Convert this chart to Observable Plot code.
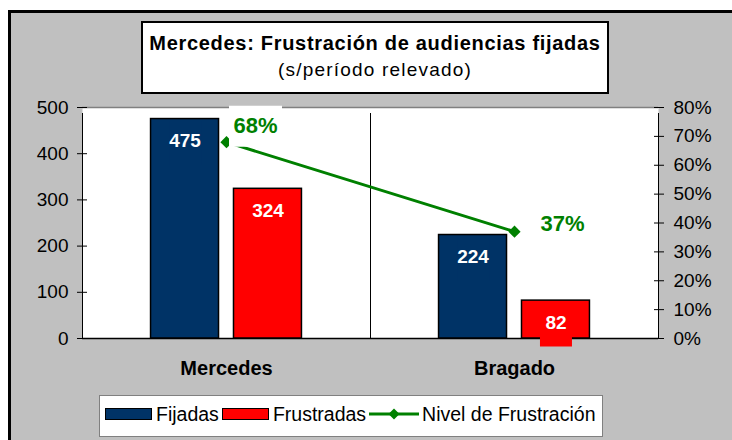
<!DOCTYPE html>
<html>
<head>
<meta charset="utf-8">
<script src="https://cdn.jsdelivr.net/npm/d3@7"></script>
<script src="https://cdn.jsdelivr.net/npm/@observablehq/plot@0.6"></script>
<style>
  html, body { margin: 0; padding: 0; background: #fff; overflow: hidden; width: 732px; height: 440px; }
  body { font-family: "Liberation Sans", Arial, sans-serif; }
  #frame { position: absolute; left: 8px; top: 10px; width: 740px; height: 450px; border: 3px solid #000; background: #c0c0c0; }
  #chart { position: absolute; left: 0; top: 0; }
  #title { position: absolute; left: 130px; top: 8px; width: 468px; height: 73px; box-sizing: border-box;
           border: 2px solid #000; background: #fff; text-align: center; color: #000; }
  #title .t1 { font-weight: bold; font-size: 20px; letter-spacing: 0.7px; margin-top: 9px; line-height: 23px; }
  #title .t2 { font-size: 19px; letter-spacing: 1.2px; margin-top: 4px; line-height: 22px; }
  #legend { position: absolute; left: 88px; top: 382px; width: 504px; height: 42px; box-sizing: border-box;
            border: 1.5px solid #808080; background: #fff; display: flex; align-items: center;
            padding: 0 0 4px 5px; font-size: 19.5px; color: #000; }
  #legend .sw { display: inline-block; width: 45px; height: 10px; border: 1.5px solid #000; margin-right: 4px; }
  #legend .lab { margin-right: 3px; }
  #legend svg { margin-right: 3px; }
</style>
</head>
<body>
<div id="frame">
  <div id="chart"></div>
  <div id="title"><div class="t1">Mercedes: Frustración de audiencias fijadas</div><div class="t2">(s/período relevado)</div></div>
  <div id="legend"></div>
</div>
<script>
// ---- data ----
const categories = ["Mercedes", "Bragado"];
const seriesNames = ["Fijadas", "Frustradas", "Nivel de Frustración"];
const fijadas = [475, 224];
const frustradas = [324, 82];
const nivel = [0.68, 0.37];
const leftTicks = [0, 100, 200, 300, 400, 500];
const rightTicks = [0, 0.1, 0.2, 0.3, 0.4, 0.5, 0.6, 0.7, 0.8];
const colors = { "Fijadas": "#003366", "Frustradas": "#ff0000", "Nivel de Frustración": "#008000" };

// ---- layout ----
const W = 711, H = 370, mL = 71, mR = 64, mT = 94, mB = 45;
const yMax = leftTicks[leftTicks.length - 1];
const rMax = rightTicks[rightTicks.length - 1];
const k = yMax / rMax;
const bw = (W - mL - mR) / categories.length;
const barW = bw * 0.236, gap = bw * 0.052;
const outer = (bw - 2 * barW - gap) / 2;

const rows = categories.flatMap((c, i) => [
  { category: c, series: "Fijadas", value: fijadas[i] },
  { category: c, series: "Frustradas", value: frustradas[i] }
]);
const lineRows = categories.map((c, i) => ({ category: c, pct: nivel[i] }));

const boxSymbol = (w, h) => ({ draw(ctx) { ctx.rect(-w / 2, -h / 2, w, h); } });

const barMarks = ["Fijadas", "Frustradas"].flatMap((s, j) => {
  const data = rows.filter(d => d.series === s);
  const insetLeft = outer + j * (barW + gap);
  const insetRight = bw - insetLeft - barW;
  const dx = insetLeft + barW / 2 - bw / 2;
  return [
    Plot.barY(data, { x: "category", y: "value", fill: colors[s], stroke: "#000", strokeWidth: 1.5, insetLeft, insetRight }),
    Plot.dot(data, { x: "category", y: "value", dx, dy: 24, r: 1, symbol: boxSymbol(32, 44), fill: colors[s], stroke: "none" }),
    Plot.text(data, { x: "category", y: "value", text: d => String(d.value), dx, dy: 22, fill: "#fff", fontWeight: "bold", fontSize: 19 })
  ];
});

const pctLabel = (i, dx, dy) => [
  Plot.dot(lineRows, { filter: (d, j) => j === i, x: "category", y: d => d.pct * k, dx, dy, r: 1, symbol: boxSymbol(53, 41), fill: "#fff", stroke: "none" }),
  Plot.text(lineRows, { filter: (d, j) => j === i, x: "category", y: d => d.pct * k, dx, dy, text: d => Math.round(d.pct * 100) + "%", fill: colors["Nivel de Frustración"], fontWeight: "bold", fontSize: 22 })
];

const chart = Plot.plot({
  width: W, height: H,
  marginLeft: mL, marginRight: mR, marginTop: mT, marginBottom: mB,
  style: { background: "transparent", fontFamily: "Liberation Sans, Arial, sans-serif", overflow: "visible" },
  x: { type: "band", domain: categories, paddingInner: 0, paddingOuter: 0, axis: null },
  y: { domain: [0, yMax], axis: null },
  marks: [
    Plot.frame({ fill: "#fff", stroke: "none" }),
    Plot.ruleY([yMax], { stroke: "#808080", strokeWidth: 1.5 }),
    Plot.ruleX(categories, { x: d => d, dx: -bw / 2, y1: 0, y2: yMax, stroke: "#000", strokeWidth: 1, insetBottom: -6 }),
    Plot.ruleX([categories[categories.length - 1]], { x: d => d, dx: bw / 2, y1: 0, y2: yMax, stroke: "#000", strokeWidth: 1, insetBottom: -6 }),
    Plot.ruleY([0], { stroke: "#000", strokeWidth: 1.5 }),
    ...barMarks,
    Plot.line(lineRows, { x: "category", y: d => d.pct * k, stroke: colors["Nivel de Frustración"], strokeWidth: 3 }),
    Plot.dot(lineRows, { x: "category", y: d => d.pct * k, symbol: "diamond2", r: 5.5, fill: colors["Nivel de Frustración"], stroke: "none" }),
    ...pctLabel(0, 29, -16),
    ...pctLabel(1, 48, -8),
    Plot.axisY({ anchor: "left", label: null, ticks: leftTicks, tickSize: 10, dx: 5, tickPadding: 9, fontSize: 19, stroke: "#000", fill: "#000" }),
    Plot.axisY({ anchor: "right", label: null, ticks: rightTicks.map(v => v * k), tickFormat: d => Math.round(d / k * 100) + "%", tickSize: 10, dx: -5, tickPadding: 10, fontSize: 19, fill: "#000" }),
    Plot.axisX({ anchor: "bottom", label: null, tickSize: 0, tickPadding: 22, fontSize: 20, fontWeight: "bold", letterSpacing: "1.2px", fill: "#000" })
  ]
});
document.getElementById("chart").appendChild(chart);

// ---- legend ----
const legend = document.getElementById("legend");
seriesNames.forEach(s => {
  if (s === "Nivel de Frustración") {
    const ns = "http://www.w3.org/2000/svg";
    const svg = document.createElementNS(ns, "svg");
    svg.setAttribute("width", 50); svg.setAttribute("height", 12);
    svg.innerHTML = `<line x1="0" y1="6" x2="50" y2="6" stroke="${colors[s]}" stroke-width="3"/>` +
      `<polygon points="25,0.5 30.5,6 25,11.5 19.5,6" fill="${colors[s]}"/>`;
    legend.appendChild(svg);
  } else {
    const sw = document.createElement("span");
    sw.className = "sw"; sw.style.background = colors[s];
    legend.appendChild(sw);
  }
  const lab = document.createElement("span");
  lab.className = "lab"; lab.textContent = s;
  legend.appendChild(lab);
});
</script>
</body>
</html>
